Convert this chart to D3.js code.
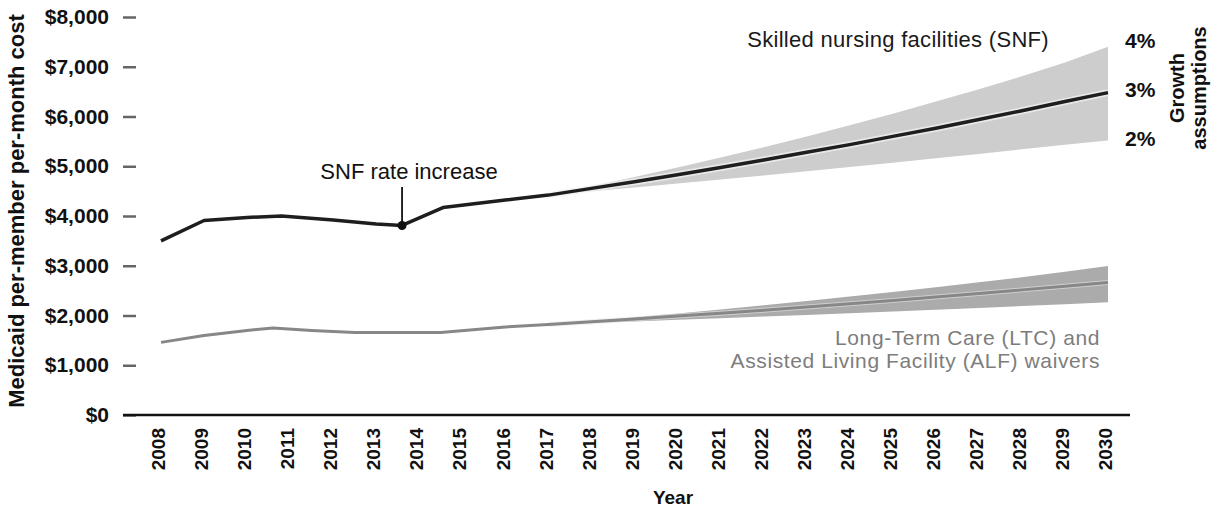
<!DOCTYPE html>
<html>
<head>
<meta charset="utf-8">
<style>
  body { margin: 0; background: #fff; }
  svg  { display: block; font-family: "Liberation Sans", Arial, Helvetica, sans-serif; }
  .tick text { fill: #111; }
</style>
<title>Medicaid per-member per-month cost</title>
</head>
<body>
<script src="https://cdn.jsdelivr.net/npm/d3@7/dist/d3.min.js"></script>
<script>

// ---- data
var yearTicks = d3.range(2008, 2031);
var costTicks = [0, 1000, 2000, 3000, 4000, 5000, 6000, 7000, 8000];

// historical (fractional years where the line bends between ticks)
var snfHistYears = [2008, 2009, 2010, 2010.8, 2012, 2013, 2013.6, 2014.55, 2016, 2017];
var snfHist      = [3500, 3910, 3970, 4000, 3920, 3840, 3810, 4170, 4320, 4420];
var ltcHistYears = [2008, 2009, 2010, 2010.6, 2011.5, 2012.5, 2014.5, 2016, 2017];
var ltcHist      = [1460, 1600, 1700, 1750, 1700, 1660, 1660, 1770, 1820];

// projections under the three growth assumptions
var projYears = d3.range(2017, 2031);
var snf4 = [4420, 4600, 4785, 4975, 5175, 5380, 5600, 5825, 6055, 6300, 6550, 6810, 7085, 7400];
var snf3 = [4420, 4555, 4690, 4830, 4975, 5125, 5280, 5435, 5600, 5765, 5940, 6115, 6300, 6480];
var snf2 = [4420, 4495, 4575, 4655, 4735, 4815, 4900, 4985, 5070, 5160, 5245, 5340, 5430, 5520];
var ltc4 = [1820, 1890, 1965, 2040, 2120, 2205, 2290, 2380, 2470, 2570, 2670, 2770, 2880, 2995];
var ltc3 = [1820, 1875, 1930, 1990, 2045, 2105, 2170, 2235, 2300, 2370, 2440, 2515, 2590, 2665];
var ltc2 = [1820, 1850, 1880, 1915, 1945, 1980, 2010, 2045, 2080, 2115, 2150, 2190, 2225, 2265];

var rateIncrease = {year: 2013.6, value: 3810};
var growthLabels = ["4%", "3%", "2%"];

////----- chart

var width = 1214, height = 512;

var svg = d3.select("body").append("svg")
    .attr("width", width)
    .attr("height", height);

var x = d3.scaleLinear().domain([2008, 2030]).range([161, 1108]);
var y = d3.scaleLinear().domain([0, 8000]).range([415, 17]);

var line = d3.line()
    .x(function(d) { return x(d[0]); })
    .y(function(d) { return y(d[1]); });

var area = d3.area()
    .x(function(d) { return x(d[0]); })
    .y0(function(d) { return y(d[1]); })
    .y1(function(d) { return y(d[2]); });

function zip(xs, a, b) {
  return xs.map(function(v, i) { return b ? [v, a[i], b[i]] : [v, a[i]]; });
}

// y axis (short dashes, no domain line)
var yAxis = svg.append("g")
    .attr("transform", "translate(136,0)")
    .call(d3.axisLeft(y)
      .tickValues(costTicks)
      .tickSize(13)
      .tickPadding(14)
      .tickFormat(d3.format("$,")));
yAxis.select(".domain").remove();
yAxis.selectAll(".tick line").attr("stroke", "#666").attr("stroke-width", 2.5);
yAxis.selectAll(".tick text")
    .style("font-size", "21px")
    .style("font-weight", "bold");

// x axis, rotated year labels
var xAxis = svg.append("g")
    .attr("transform", "translate(0," + y(0) + ")")
    .call(d3.axisBottom(x).tickValues(yearTicks).tickSize(0).tickFormat(d3.format("d")));
xAxis.select(".domain").remove();
xAxis.selectAll(".tick text")
    .attr("transform", "rotate(-90)")
    .attr("x", -13)
    .attr("y", -3)
    .attr("dy", "0.35em")
    .style("text-anchor", "end")
    .style("font-size", "19px")
    .style("font-weight", "bold");

// baseline at $0
svg.append("line")
    .attr("x1", 123).attr("x2", 1130)
    .attr("y1", y(0)).attr("y2", y(0))
    .attr("stroke", "#111")
    .attr("stroke-width", 2.5);

// ---- LTC / ALF waivers
svg.append("path")
    .attr("d", area(zip(projYears, ltc2, ltc4)))
    .attr("fill", "#ababab");
svg.append("path")
    .attr("d", line(zip(projYears, ltc3)))
    .attr("fill", "none")
    .attr("stroke", "#e6e6e6")
    .attr("stroke-width", 5)
    .attr("stroke-opacity", 0.6);
svg.append("path")
    .attr("d", line(zip(ltcHistYears, ltcHist).concat(zip(projYears, ltc3).slice(1))))
    .attr("fill", "none")
    .attr("stroke", "#878787")
    .attr("stroke-width", 3)
    .attr("stroke-linejoin", "round");

// ---- SNF
svg.append("path")
    .attr("d", area(zip(projYears, snf2, snf4)))
    .attr("fill", "#cdcdcd");
svg.append("path")
    .attr("d", line(zip(projYears, snf3)))
    .attr("fill", "none")
    .attr("stroke", "#f4f4f4")
    .attr("stroke-width", 7)
    .attr("stroke-opacity", 0.7);
svg.append("path")
    .attr("d", line(zip(snfHistYears, snfHist).concat(zip(projYears, snf3).slice(1))))
    .attr("fill", "none")
    .attr("stroke", "#1e1e1e")
    .attr("stroke-width", 3.5)
    .attr("stroke-linejoin", "round");

// rate increase marker
svg.append("line")
    .attr("x1", x(rateIncrease.year)).attr("x2", x(rateIncrease.year))
    .attr("y1", 187).attr("y2", y(rateIncrease.value))
    .attr("stroke", "#111")
    .attr("stroke-width", 1.8);
svg.append("circle")
    .attr("cx", x(rateIncrease.year))
    .attr("cy", y(rateIncrease.value))
    .attr("r", 4.5)
    .attr("fill", "#111");

// ---- labels
svg.append("text")
    .attr("x", 409).attr("y", 179)
    .attr("text-anchor", "middle")
    .style("font-size", "22px")
    .attr("fill", "#111")
    .text("SNF rate increase");

svg.append("text")
    .attr("x", 1049).attr("y", 47)
    .attr("text-anchor", "end")
    .style("font-size", "22px")
    .style("letter-spacing", "0.3px")
    .attr("fill", "#1a1a1a")
    .text("Skilled nursing facilities (SNF)");

// two separate lines for the LTC caption
svg.selectAll(".ltc-label")
    .data(["Long-Term Care (LTC) and", "Assisted Living Facility (ALF) waivers"])
  .enter().append("text")
    .attr("class", "ltc-label")
    .attr("x", 1100)
    .attr("y", function(d, i) { return 345 + i * 23; })
    .attr("text-anchor", "end")
    .style("font-size", "21px")
    .style("letter-spacing", "0.6px")
    .attr("fill", "#7d7d7d")
    .text(function(d) { return d; });

svg.selectAll(".growth")
    .data(growthLabels)
  .enter().append("text")
    .attr("class", "growth")
    .attr("x", 1125)
    .attr("y", function(d, i) { return 48 + i * 49; })
    .style("font-size", "21px")
    .style("font-weight", "bold")
    .attr("fill", "#111")
    .text(function(d) { return d; });

var growthTitle = svg.append("text")
    .attr("transform", "translate(1184,88) rotate(-90)")
    .attr("text-anchor", "middle")
    .style("font-size", "20px")
    .style("font-weight", "bold")
    .attr("fill", "#111");
growthTitle.append("tspan").attr("x", 0).attr("y", 0).text("Growth");
growthTitle.append("tspan").attr("x", 0).attr("y", 22).text("assumptions");

svg.append("text")
    .attr("transform", "translate(24,211) rotate(-90)")
    .attr("text-anchor", "middle")
    .style("font-size", "22px")
    .style("font-weight", "bold")
    .attr("fill", "#111")
    .text("Medicaid per-member per-month cost");

svg.append("text")
    .attr("x", 673).attr("y", 504)
    .attr("text-anchor", "middle")
    .style("font-size", "19px")
    .style("font-weight", "bold")
    .attr("fill", "#111")
    .text("Year");

</script>
</body>
</html>
